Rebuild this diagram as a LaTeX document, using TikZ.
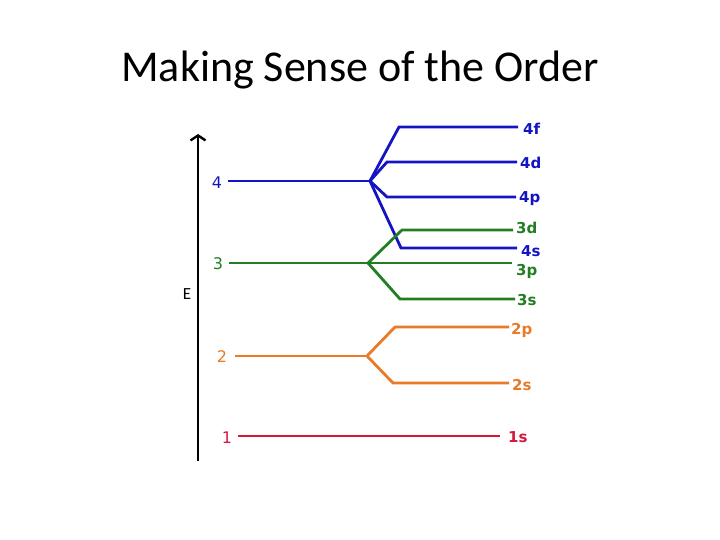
\documentclass[tikz,border=0pt]{standalone}
\usepackage{fontspec}
\setmainfont{Carlito}
\newfontfamily\lvlfont{DejaVu Sans}
\usetikzlibrary{arrows.meta}
\definecolor{lvlblue}{RGB}{20,20,195}
\definecolor{lvlgreen}{RGB}{35,125,35}
\definecolor{lvlorange}{RGB}{232,122,40}
\definecolor{lvlred}{RGB}{212,24,60}
\begin{document}
\begin{tikzpicture}[x=1pt, y=-1pt,
  shell/.style = {font=\lvlfont\fontsize{16}{16}\selectfont, inner sep=0pt},
  sub/.style = {font=\lvlfont\bfseries\fontsize{15}{15}\selectfont, inner sep=0pt, anchor=west},
  lvl/.style = {line width=2.8pt}]
\useasboundingbox (0,0) rectangle (720,540);
\node (title) at (360,70) {\fontsize{44}{44}\selectfont Making Sense of the Order};

% energy axis
\coordinate (base) at (198,461);
\coordinate (top) at (198,134);
\draw[line width=2.4pt, -{Straight Barb[length=5pt, width=15pt]}] (base) -- (top);
\node (E) at (187,294) {\fontsize{17}{17}\selectfont E};

% n = 4
\node[shell, lvlblue] (4) at (217,183) {4};
\coordinate (b4) at (370,181);
\node[sub, lvlblue] (4f) at (523,129) {4f};
\node[sub, lvlblue] (4d) at (520,163) {4d};
\node[sub, lvlblue] (4p) at (519,199) {4p};
\node[sub, lvlblue] (4s) at (521,251) {4s};
\draw[lvl, lvlblue] (228,181) -- (b4);
\draw[lvl, lvlblue] (b4) -- (399,127) -- (518,127);
\draw[lvl, lvlblue] (b4) -- (387,162) -- (517,162);
\draw[lvl, lvlblue] (b4) -- (387,197) -- (516,197);
\draw[lvl, lvlblue] (b4) -- (401,248) -- (517,248);

% n = 3
\node[shell, lvlgreen] (3) at (218,264) {3};
\coordinate (b3) at (368,263);
\node[sub, lvlgreen] (3d) at (516,228) {3d};
\node[sub, lvlgreen] (3p) at (516,271) {3p};
\node[sub, lvlgreen] (3s) at (517,300) {3s};
\draw[lvl, lvlgreen] (229,263) -- (b3);
\draw[lvl, lvlgreen] (b3) -- (402,230) -- (513,230);
\draw[lvl, lvlgreen] (b3) -- (512,263);
\draw[lvl, lvlgreen] (b3) -- (400,299) -- (515,299);

% n = 2
\node[shell, lvlorange] (2) at (222,357) {2};
\coordinate (b2) at (367,356);
\node[sub, lvlorange] (2p) at (511,330) {2p};
\node[sub, lvlorange] (2s) at (512,385) {2s};
\draw[lvl, lvlorange, line width=2pt] (235,356) -- (b2);
\draw[lvl, lvlorange] (b2) -- (395,327) -- (509,327);
\draw[lvl, lvlorange] (b2) -- (393,383) -- (509,383);

% n = 1
\node[shell, lvlred] (1) at (227,438) {1};
\node[sub, lvlred] (1s) at (508,437) {1s};
\draw[lvl, lvlred, line width=2.2pt] (238,436) -- (500,436);
\end{tikzpicture}
\end{document}
